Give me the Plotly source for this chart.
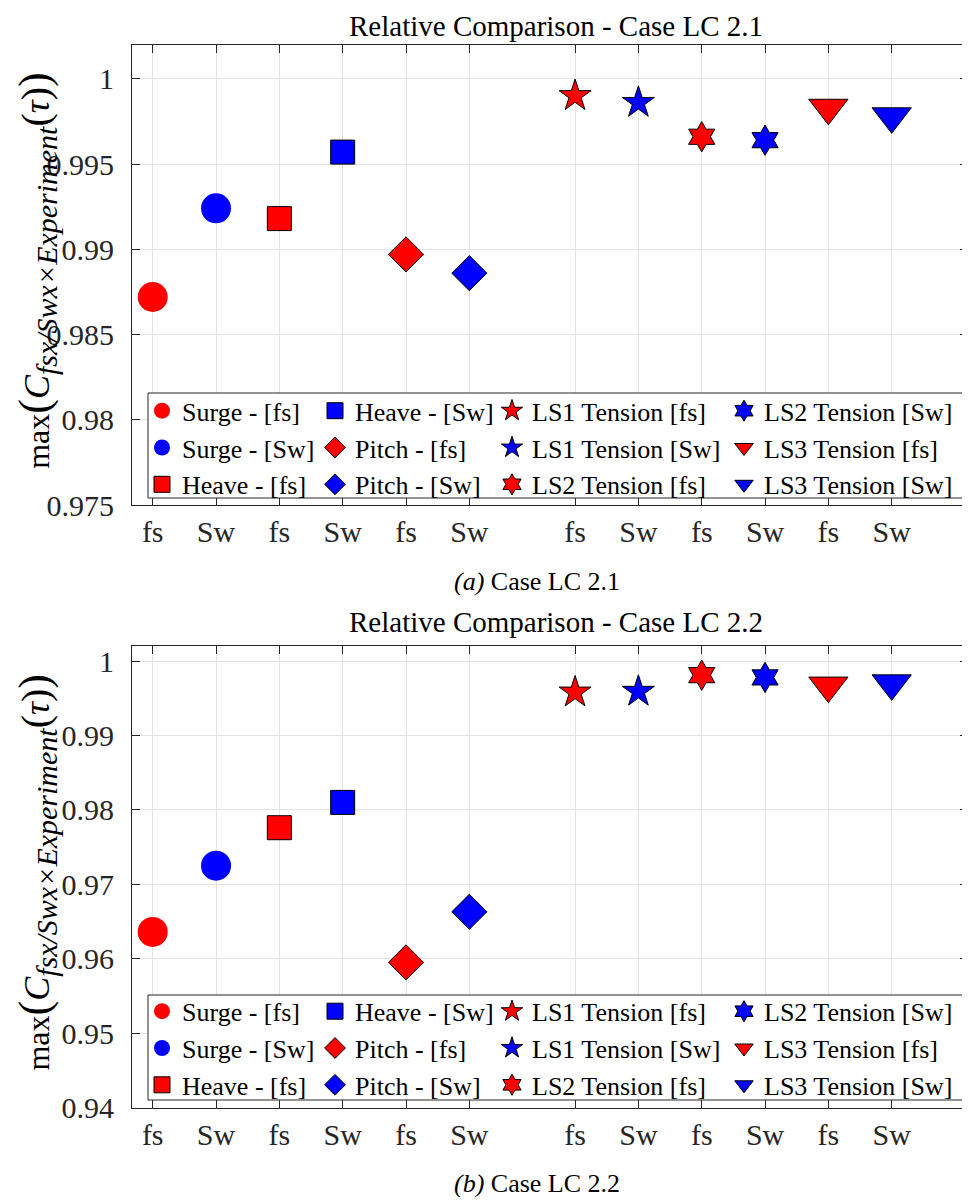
import plotly.graph_objects as go

# ---------------- data ----------------
tick_labels = ["fs", "Sw", "fs", "Sw", "fs", "Sw", "fs", "Sw", "fs", "Sw", "fs", "Sw"]
x_pos = [1, 2, 3, 4, 5, 6, 7.67, 8.67, 9.67, 10.67, 11.67, 12.67]
series_names = [
    "Surge - [fs]", "Surge - [Sw]", "Heave - [fs]", "Heave - [Sw]",
    "Pitch - [fs]", "Pitch - [Sw]", "LS1 Tension [fs]", "LS1 Tension [Sw]",
    "LS2 Tension [fs]", "LS2 Tension [Sw]", "LS3 Tension [fs]", "LS3 Tension [Sw]",
]
lc21_values = [0.9872, 0.9924, 0.9918, 0.9957, 0.9897, 0.9886,
               0.9990, 0.9986, 0.9966, 0.9964, 0.9983, 0.9978]
lc22_values = [0.9636, 0.9725, 0.9776, 0.9810, 0.9595, 0.9663,
               0.9958, 0.9959, 0.9981, 0.9978, 0.9967, 0.9970]
y1_ticks = [0.975, 0.98, 0.985, 0.99, 0.995, 1.0]
y1_labels = ["0.975", "0.98", "0.985", "0.99", "0.995", "1"]
y2_ticks = [0.94, 0.95, 0.96, 0.97, 0.98, 0.99, 1.0]
y2_labels = ["0.94", "0.95", "0.96", "0.97", "0.98", "0.99", "1"]
titles = ["Relative Comparison - Case LC 2.1", "Relative Comparison - Case LC 2.2"]
captions = ["<i>(a)</i> Case LC 2.1", "<i>(b)</i> Case LC 2.2"]

# ---------------- styles ----------------
OFF = 8                       # default page (body) margin offset
W, H = 970 - OFF, 1200 - OFF
ML, MR = 132 - OFF, 2
PW = W - ML - MR
FONT = "Liberation Serif"
AX = "#262626"
GRID = "#e3e3e3"
TICK_FS = 30
colors = ["#ff0000", "#0000ff"] * 6
symbols = ["circle", "circle", "square", "square", "diamond", "diamond",
           "star", "star", "hexagram", "hexagram", "triangle-down", "triangle-down"]
sizes = {"circle": 30, "square": 24, "diamond": 27, "star": 24,
         "hexagram": 23, "triangle-down": 34}

def px_x(px):
    return (px - OFF - ML) / PW

def px_y(py):
    return 1 - (py - OFF) / H

fig = go.Figure()

panels = [
    dict(vals=lc21_values, xa="x", ya="y", top=44.7, bot=505.0,
         rng=[0.975, 1.002], tv=y1_ticks, tt=y1_labels, leg0=1,
         legmid=447.5, box=(393, 498), title_y=26, cap_y=581),
    dict(vals=lc22_values, xa="x2", ya="y2", top=645.7, bot=1107.5,
         rng=[0.94, 1.00206], tv=y2_ticks, tt=y2_labels, leg0=5,
         legmid=1048, box=(995, 1100), title_y=622, cap_y=None),
]

col_left = [142, 315, 492, 724]
LEG_FS = 26
row_h = LEG_FS * 1.3 + 3

layout_extra = {}
shapes = []
annotations = []

for p_i, p in enumerate(panels):
    for i, name in enumerate(series_names):
        sym = symbols[i]
        lw = 0 if sym == "circle" else 1
        leg_id = p["leg0"] + i // 3
        leg_name = "legend" if leg_id == 1 else f"legend{leg_id}"
        fig.add_trace(go.Scatter(
            x=[x_pos[i]], y=[p["vals"][i]], mode="markers", name=name,
            xaxis=p["xa"], yaxis=p["ya"], legend=leg_name,
            marker=dict(symbol=sym, size=sizes[sym], color=colors[i],
                        line=dict(color="black" if lw else colors[i], width=lw)),
        ))
    # legends (one per column)
    first_center = p["legmid"] - row_h
    top_px = first_center - row_h / 2 - 5
    for c in range(4):
        leg_id = p["leg0"] + c
        key = "legend" if leg_id == 1 else f"legend{leg_id}"
        layout_extra[key] = dict(
            xref="paper", yref="paper",
            x=px_x(col_left[c]), y=px_y(top_px), xanchor="left", yanchor="top",
            bgcolor="rgba(0,0,0,0)", borderwidth=0, itemsizing="trace",
            itemwidth=30, tracegroupgap=0, orientation="v",
            font=dict(family=FONT, size=LEG_FS, color="black"),
        )
    # legend box
    dom_h = p["bot"] - p["top"]
    shapes.append(dict(
        type="rect", xref=f"{p['xa']} domain", yref=f"{p['ya']} domain",
        x0=px_x(148), x1=px_x(966),
        y0=(p["bot"] - p["box"][1]) / dom_h, y1=(p["bot"] - p["box"][0]) / dom_h,
        line=dict(color=AX, width=1), fillcolor="white", layer="above",
    ))
    # axes
    xkey = "xaxis" if p["xa"] == "x" else "xaxis2"
    ykey = "yaxis" if p["ya"] == "y" else "yaxis2"
    layout_extra[xkey] = dict(
        domain=[0, 1], anchor=p["ya"], range=[0.673, 13.875],
        tickmode="array", tickvals=x_pos, ticktext=tick_labels,
        ticks="inside", ticklen=8, tickcolor=AX, tickwidth=1,
        showline=True, linecolor=AX, linewidth=1, mirror="ticks",
        showgrid=True, gridcolor=GRID, gridwidth=1, zeroline=False,
        tickfont=dict(family=FONT, size=TICK_FS, color=AX), ticklabelstandoff=0,
        automargin=False,
    )
    layout_extra[ykey] = dict(
        domain=[px_y(p["bot"]), px_y(p["top"])], anchor=p["xa"],
        range=p["rng"], tickmode="array", tickvals=p["tv"], ticktext=p["tt"],
        ticks="inside", ticklen=8, tickcolor=AX, tickwidth=1,
        showline=True, linecolor=AX, linewidth=1, mirror="ticks",
        showgrid=True, gridcolor=GRID, gridwidth=1, zeroline=False,
        tickfont=dict(family=FONT, size=TICK_FS, color=AX), ticklabelstandoff=11,
        automargin=False,
    )
    # title
    annotations.append(dict(
        text=titles[p_i], xref="paper", yref="paper",
        x=px_x(555.5), y=px_y(p["title_y"]), xanchor="center", yanchor="middle",
        showarrow=False, font=dict(family=FONT, size=29, color="black"),
    ))
    # caption
    if p["cap_y"] is not None:
        annotations.append(dict(
            text=captions[p_i], xref="paper", yref="paper",
            x=px_x(536.5), y=px_y(p["cap_y"]), xanchor="center", yanchor="middle",
            showarrow=False, font=dict(family=FONT, size=26, color="black"),
        ))
    else:
        annotations.append(dict(
            text=captions[p_i], xref="paper", yref="paper",
            x=px_x(536.5), y=0, xanchor="center", yanchor="bottom",
            showarrow=False, font=dict(family=FONT, size=26, color="black"),
        ))
    # y label
    ylab = ('<span style="font-size:32px">max</span>'
            '<span style="font-size:44px">(</span><i>C</i>'
            '<sub><span style="font-size:30px"><i>fsx/Swx×Experiment</i></span></sub>'
            '<span style="font-size:40px">(</span><i>τ</i>'
            '<span style="font-size:40px">)</span>'
            '<span style="font-size:44px">)</span>')
    annotations.append(dict(
        text=ylab, xref="paper", yref="paper", textangle=-90,
        x=px_x(37), y=px_y((p["top"] + p["bot"]) / 2 - 4),
        xanchor="center", yanchor="middle", showarrow=False,
        font=dict(family=FONT, size=36, color="black"),
    ))

fig.update_layout(
    width=W, height=H, margin=dict(l=ML, r=MR, t=0, b=0, autoexpand=False),
    paper_bgcolor="white", plot_bgcolor="white", showlegend=True,
    shapes=shapes, annotations=annotations, **layout_extra,
)

fig.write_html("out.html")
